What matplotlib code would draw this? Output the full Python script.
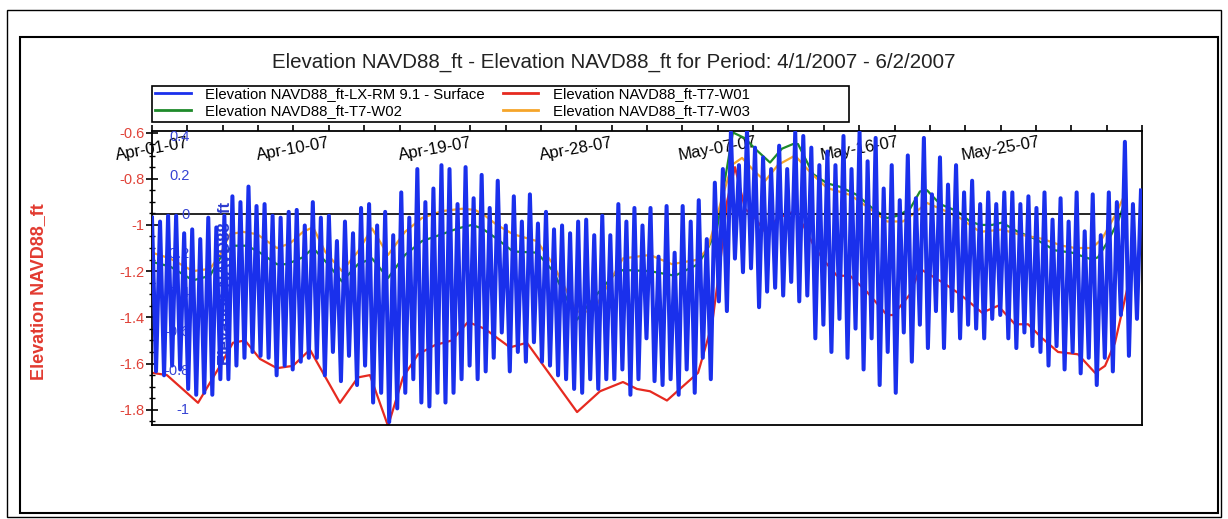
import numpy as np
import pandas as pd
import matplotlib
matplotlib.use('Agg')
import matplotlib.pyplot as plt
import matplotlib.dates as mdates
from matplotlib.patches import Rectangle
from matplotlib.lines import Line2D
from matplotlib.ticker import MultipleLocator, FixedLocator, FuncFormatter

plt.rcParams['font.family'] = ['Liberation Sans', 'DejaVu Sans']

start = pd.Timestamp('2007-04-01')
end = pd.Timestamp('2007-06-03')

# LX-RM 9.1 surface, successive tidal highs and lows (blue axis, ft)
lx_highs = [-0.02, -0.04, -0.01, -0.01, -0.10, -0.08, -0.13, -0.02, -0.07, -0.01, 0.09,
            0.06, 0.14, 0.04, 0.05, -0.01, -0.02, 0.01, 0.02, -0.06, 0.06, -0.02,
            -0.01, -0.14, -0.04, -0.10, 0.03, 0.05, -0.06, 0.01, -0.11, 0.11,
            -0.02, 0.23, 0.06, 0.13, 0.25, 0.23, 0.05, 0.24, 0.08, 0.20,
            0.03, 0.17, -0.06, 0.09, -0.04, 0.10, -0.05, 0.01, -0.08, -0.06,
            -0.10, -0.04, -0.03, -0.11, -0.01, -0.11, 0.05, -0.04, 0.03, -0.06,
            0.03, -0.22, 0.04, -0.20, 0.04, -0.04, 0.07, -0.13, 0.16, 0.23,
            0.42, 0.25, 0.43, 0.34, 0.29, 0.23, 0.35, 0.23, 0.42, 0.40,
            0.34, 0.25, 0.32, 0.25, 0.40, 0.23, 0.42, 0.27, 0.39, 0.13, 0.25,
            0.07, 0.30, 0.08, 0.39, 0.10, 0.29, 0.15, 0.25, 0.11, 0.17, 0.05,
            0.11, 0.05, 0.11, 0.11, 0.05, 0.09, 0.03, 0.11, -0.03, 0.08,
            -0.04, 0.11, -0.09, 0.10, -0.11, 0.11, 0.06, 0.37, 0.05, 0.12]
lx_lows = [-0.81, -0.83, -0.78, -0.80, -0.90, -0.93, -0.92, -0.93, -0.85, -0.85, -0.78,
           -0.74, -0.71, -0.73, -0.74, -0.83, -0.78, -0.80, -0.76, -0.74, -0.74,
           -0.83, -0.71, -0.86, -0.73, -0.88, -0.78, -0.97, -0.92, -1.07, -1.00,
           -0.92, -0.85, -0.97, -0.99, -0.92, -0.97, -0.92, -0.85, -0.78, -0.85,
           -0.81, -0.74, -0.61, -0.81, -0.71, -0.76, -0.66, -0.76, -0.78, -0.83,
           -0.85, -0.90, -0.92, -0.85, -0.90, -0.85, -0.85, -0.80, -0.93, -0.85,
           -0.64, -0.86, -0.88, -0.85, -0.93, -0.80, -0.92, -0.74, -0.85, -0.45,
           -0.50, -0.23, -0.30, -0.28, -0.48, -0.40, -0.38, -0.42, -0.35, -0.45, -0.42,
           -0.64, -0.57, -0.71, -0.54, -0.74, -0.59, -0.80, -0.64, -0.88, -0.71,
           -0.92, -0.61, -0.76, -0.57, -0.69, -0.50, -0.69, -0.50, -0.64, -0.57,
           -0.59, -0.64, -0.54, -0.52, -0.64, -0.69, -0.61, -0.68, -0.71, -0.78, -0.68,
           -0.80, -0.71, -0.82, -0.74, -0.88, -0.74, -0.81, -0.52, -0.73, -0.54]
tide_step_h = 6.14

# T7 wells: day offset from Apr 1 and elevation (red axis, ft)
w01_day = [0, 0.95, 2.93, 4.33, 5.15, 5.92, 6.87, 7.95, 8.97, 10.05, 11.96, 13.11, 13.87,
           15.02, 15.97, 16.93, 18.01, 19.09, 20.11, 21.19, 22.78, 23.86, 27.05, 28.51,
           29.97, 30.86, 31.69, 32.77, 34.75, 35.64, 36.15, 36.59, 37.10, 37.74, 38.37,
           39.01, 39.84, 40.92, 41.43, 42.19, 42.96, 43.59, 44.42, 45.50, 46.77, 47.16,
           48.24, 48.87, 50.34, 51.42, 52.82, 53.84, 54.92, 55.75, 56.64, 57.66, 58.93,
           60.01, 60.65, 61.28, 62.05]
w01 = [-1.64, -1.65, -1.77, -1.61, -1.51, -1.50, -1.58, -1.62, -1.61, -1.54, -1.77, -1.66,
       -1.65, -1.87, -1.66, -1.56, -1.52, -1.50, -1.42, -1.45, -1.53, -1.51, -1.81, -1.72,
       -1.68, -1.71, -1.72, -1.76, -1.64, -1.43, -1.17, -0.90, -0.75, -0.93, -0.97, -1.03,
       -0.97, -0.94, -1.00, -1.10, -1.17, -1.22, -1.22, -1.29, -1.39, -1.39, -1.30, -1.19,
       -1.25, -1.30, -1.38, -1.35, -1.43, -1.43, -1.49, -1.55, -1.56, -1.64, -1.61, -1.51,
       -1.28]

w02_day = [0, 1.15, 2.61, 3.69, 4.33, 5.15, 6.05, 6.87, 7.95, 8.59, 9.61, 10.25, 11.20,
           12.09, 13.11, 14.00, 15.02, 16.10, 17.18, 18.46, 19.47, 20.36, 21.00, 21.95,
           22.97, 24.50, 25.52, 27.05, 28.06, 29.34, 29.97, 31.69, 33.28, 34.75, 35.38,
           35.96, 36.47, 36.97, 37.74, 38.37, 39.33, 40.09, 40.79, 41.11, 42.07, 42.96,
           43.78, 44.86, 45.88, 46.77, 47.47, 48.24, 48.87, 49.32, 50.15, 51.23, 52.06,
           52.69, 53.46, 54.09, 55.11, 56.19, 57.46, 58.55, 59.82, 60.20, 60.84, 61.47,
           61.92]
w02 = [-1.16, -1.18, -1.24, -1.22, -1.145, -1.09, -1.09, -1.12, -1.17, -1.17, -1.14, -1.10,
       -1.17, -1.245, -1.17, -1.145, -1.23, -1.13, -1.07, -1.04, -1.015, -1.00, -1.015,
       -1.06, -1.115, -1.12, -1.20, -1.41, -1.32, -1.22, -1.195, -1.20, -1.22, -1.17,
       -1.10, -1.015, -0.80, -0.60, -0.625, -0.67, -0.73, -0.67, -0.65, -0.65, -0.78,
       -0.82, -0.835, -0.87, -0.93, -0.97, -0.96, -0.93, -0.855, -0.85, -0.91, -0.94,
       -0.985, -1.00, -1.00, -0.99, -1.03, -1.06, -1.11, -1.12, -1.15, -1.14, -1.07,
       -0.985, -0.90]

w03_day = [0, 1.15, 2.61, 3.69, 4.33, 4.96, 5.79, 6.68, 7.95, 8.78, 9.61, 10.25, 11.01,
           12.09, 13.11, 14.00, 15.02, 16.10, 17.18, 18.46, 19.73, 20.56, 21.19, 21.95,
           22.97, 24.50, 25.52, 27.05, 28.06, 29.34, 29.97, 31.69, 33.09, 34.75, 35.38,
           36.27, 36.91, 37.55, 38.37, 39.01, 39.84, 40.92, 42.00, 42.96, 44.42, 45.69,
           46.77, 47.79, 48.68, 49.32, 50.34, 51.42, 52.69, 54.09, 55.11, 56.64, 57.91,
           58.74, 59.82, 60.46, 61.28, 61.79]
w03 = [-1.12, -1.145, -1.20, -1.19, -1.13, -1.04, -1.03, -1.04, -1.10, -1.08, -1.03, -1.01,
       -1.115, -1.20, -1.115, -1.015, -1.13, -1.03, -0.97, -0.94, -0.93, -0.935, -0.96,
       -1.00, -1.04, -1.07, -1.17, -1.375, -1.375, -1.22, -1.145, -1.13, -1.17, -1.15,
       -1.10, -0.885, -0.74, -0.71, -0.77, -0.81, -0.74, -0.70, -0.78, -0.84, -0.87,
       -0.93, -0.985, -0.985, -0.94, -0.905, -0.935, -0.97, -1.03, -1.02, -1.04, -1.06,
       -1.09, -1.10, -1.10, -1.06, -0.96, -0.885]

labels = ['Elevation NAVD88_ft-LX-RM 9.1 - Surface', 'Elevation NAVD88_ft-T7-W02',
          'Elevation NAVD88_ft-T7-W01', 'Elevation NAVD88_ft-T7-W03']
c_blue, c_red, c_green, c_orange = '#1a30ec', '#e62a20', '#1e8a2a', '#f5a52a'

# interleave tidal extremes into one series
lx = np.empty(len(lx_highs) + len(lx_lows))
lx[0::2] = lx_highs
lx[1::2] = lx_lows
lx_time = start + pd.to_timedelta(np.arange(len(lx)) * tide_step_h, unit='h')

def days(d):
    return start + pd.to_timedelta(np.array(d), unit='D')

W, H = 1228, 519
fig = plt.figure(figsize=(W / 100, H / 100), dpi=100)
fig.patches.append(Rectangle((7 / W, 1 - 517 / H), 1214 / W, 507 / H, transform=fig.transFigure,
                             fill=False, edgecolor='black', lw=1.0))
fig.patches.append(Rectangle((20 / W, 1 - 513 / H), 1198 / W, 476 / H, transform=fig.transFigure,
                             fill=False, edgecolor='black', lw=1.5))

ax = fig.add_axes([152 / W, 1 - 425 / H, 990 / W, 294 / H])
ax2 = ax.twinx()

ax.plot(days(w01_day), w01, color=c_red, lw=1.6)
ax.plot(days(w02_day), w02, color=c_green, lw=1.6)
ax.plot(days(w03_day), w03, color=c_orange, lw=1.6)
ax2.axhline(0, color='black', lw=1.2, zorder=1)
ax2.plot(lx_time, lx, color=c_blue, lw=2.9, zorder=3)

ax.set_xlim(start, end)
ax.set_ylim(-1.866, -0.5935)
ax2.set_ylim(-1.0854, 0.4256)

# time axis on top, labels inside the plot
ax.xaxis.tick_top()
major = pd.date_range(start, periods=7, freq='9D')
minor = pd.date_range(start, end, periods=29)
ax.xaxis.set_major_locator(FixedLocator(mdates.date2num(major)))
ax.xaxis.set_minor_locator(FixedLocator(mdates.date2num(minor)))
ax.xaxis.set_major_formatter(mdates.DateFormatter('%b-%d-%y'))
ax.tick_params(axis='x', which='both', direction='out', length=4, width=1.2, top=True, bottom=False)
ax.tick_params(axis='x', which='major', pad=-27, labelsize=12, rotation=10)

fmt = FuncFormatter(lambda v, p: '%g' % round(v, 2))
ax.yaxis.set_major_locator(MultipleLocator(0.2))
ax.yaxis.set_minor_locator(MultipleLocator(0.05))
ax.yaxis.set_major_formatter(fmt)
ax.tick_params(axis='y', which='major', direction='inout', length=9, width=1.2,
               labelsize=10.5, labelcolor='#e04238', pad=1)
ax.tick_params(axis='y', which='minor', direction='inout', length=5, width=1.0)

ax2.yaxis.tick_left()
ax2.yaxis.set_major_locator(MultipleLocator(0.2))
ax2.yaxis.set_major_formatter(fmt)
ax2.tick_params(axis='y', which='both', length=0, labelsize=10.5, labelcolor='#3644d4', pad=-27)
for s in ax2.spines.values():
    s.set_visible(False)
for s in ax.spines.values():
    s.set_linewidth(1.3)

ax.set_ylabel('Elevation NAVD88_ft', color='#e23a30', fontweight='bold', fontsize=13)
ax.yaxis.set_label_coords(-0.106, 0.455)
ax2.set_ylabel('Elevation NAVD88_ft', color='#2c3cd0', fontweight='bold', fontsize=12)
ax2.yaxis.set_label_coords(0.066, 0.48)

fig.text(0.5, 1 - 62 / H, 'Elevation NAVD88_ft - Elevation NAVD88_ft for Period: 4/1/2007 - 6/2/2007',
         ha='center', va='center', fontsize=14.8, color='#222222')

handles = [Line2D([], [], color=c, lw=2) for c in (c_blue, c_green, c_red, c_orange)]
fig.legend(handles, labels, ncol=2, loc='upper left', bbox_to_anchor=(154 / W, 1 - 86 / H),
           frameon=False, fontsize=10.7, handlelength=2.4, handletextpad=0.95,
           columnspacing=1.2, labelspacing=0.2, borderpad=0.1, borderaxespad=0)
fig.patches.append(Rectangle((152 / W, 1 - 122 / H), 697 / W, 36 / H, transform=fig.transFigure,
                             fill=False, edgecolor='black', lw=1.2))

fig.savefig('out.png', dpi=100)
